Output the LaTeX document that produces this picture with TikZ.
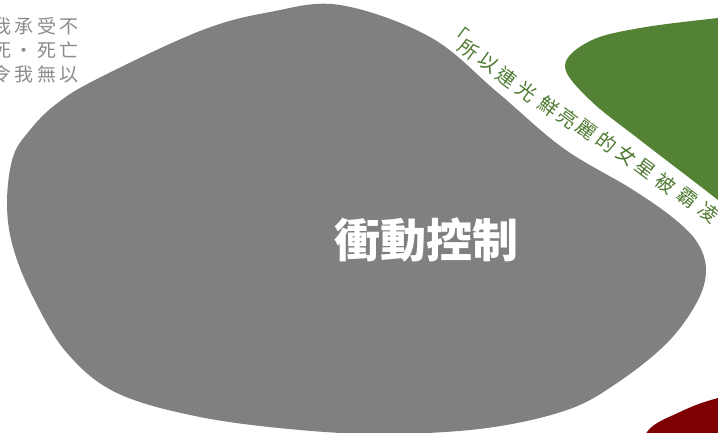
\documentclass[tikz,border=0pt]{standalone}
\usepackage{fontspec}
\newfontfamily\cjk{Noto Sans CJK TC}
\usetikzlibrary{calc}
\definecolor{blobgray}{HTML}{808080}
\definecolor{blobgreen}{HTML}{548235}
\definecolor{blobred}{HTML}{7F0000}
\definecolor{pathgreen}{HTML}{4E7A31}
\definecolor{sidegray}{HTML}{8C8C8C}
\newcommand{\gp}{\hspace{3.5pt}}
\tikzset{
  blob/.style={draw=none},
  sideline/.style={anchor=east, inner sep=0pt, text=sidegray, font=\cjk\fontsize{19}{20}\selectfont},
  pathchar/.style={inner sep=0pt, text=pathgreen, rotate=-37, font=\cjk\fontsize{19.5}{20}\selectfont},
  mainlabel/.style={inner sep=0pt, text=white, font=\cjk\bfseries\fontsize{46}{50}\selectfont}
}
\begin{document}
\begin{tikzpicture}[x=1pt,y=-1pt]
\useasboundingbox (0,0) rectangle (718,432);
\clip (0,0) rectangle (718,432);
\fill[white] (0,0) rectangle (718,432);
% gray blob
\fill[blobgray, blob] plot[smooth cycle, tension=0.6] coordinates {
 (340,5) (430,37) (497,92) (563,148) (630,188) (672,217) (697,242) (706,270)
 (697,302) (667,343) (617,383) (567,410) (487,428) (390,434) (300,430)
 (200,417) (117,393) (67,353) (33,297) (13,247) (7,203) (13,157) (30,130)
 (55,105) (95,80) (200,31) (270,12)};
% green blob
\fill[blobgreen, blob] plot[smooth cycle, tension=0.6] coordinates {
 (565,66) (590,41) (640,28) (718,18) (780,12) (800,150) (760,235) (718,200)
 (640,140) (590,100)};
% red blob
\fill[blobred, blob] plot[smooth cycle, tension=0.6] coordinates {
 (647,432) (680,412) (718,398) (780,385) (800,470) (640,470)};
% side text
\node[sideline] (s1) at (79,26) {我\gp 承\gp 受\gp 不};
\node[sideline] (s2) at (79,50) {死\gp ・\gp 死\gp 亡};
\node[sideline] (s3) at (79,74) {令\gp 我\gp 無\gp 以};
% main label
\node[mainlabel] (main) at (426,240) {衝動控制};
% text along the gap
\foreach \ch/\px/\py [count=\i] in {「/458/32, 所/469/50, 以/488/63, 連/507/77, 光/527/91,
  鮮/549/106, 亮/568/118, 麗/587/130, 的/607/142, 女/627/155, 星/646/169,
  被/666/183, 霸/687/198, 凌/709/212}
  \node[pathchar] (t\i) at (\px,\py) {\ch};
\end{tikzpicture}
\end{document}
